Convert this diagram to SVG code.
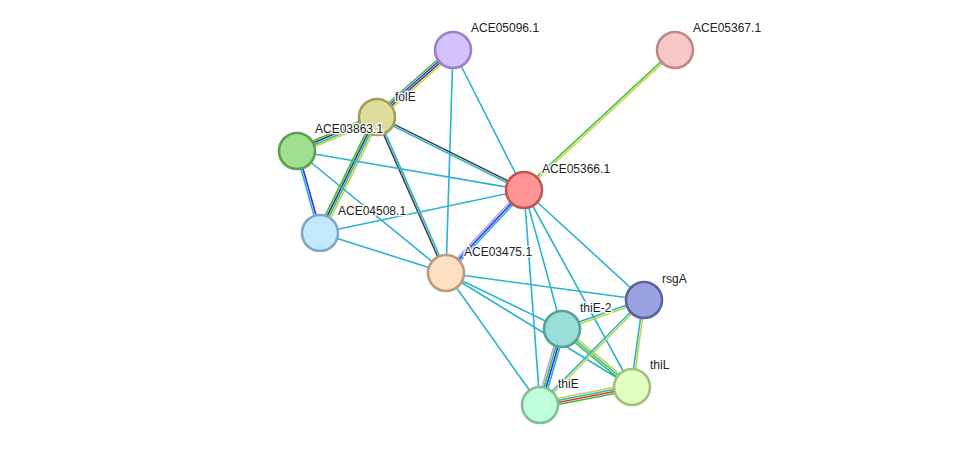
<svg xmlns="http://www.w3.org/2000/svg" width="976" height="451" viewBox="0 0 976 451">
<style>
  line { stroke-width: 1.6; fill: none; }
  .c { stroke: #2ab3d1; }
  .y { stroke: #c3d53a; }
  .g { stroke: #3cbf3c; }
  .k { stroke: #454545; }
  .b { stroke: #3535e8; }
  .p { stroke: #a8a8f8; }
  .r { stroke: #ee3535; }
  circle { stroke-width: 2.6; }
  text { font-family: "Liberation Sans", Arial, sans-serif; font-size: 12px; fill: #222; stroke: #fff; stroke-width: 2.5; paint-order: stroke; stroke-linejoin: round; }
</style>
<rect width="976" height="451" fill="#fff"/>
<g id="connectors">
  <!-- ACE05096.1 - folE -->
  <line class="g" x1="451.02" y1="47.75" x2="375.02" y2="114.75"/>
  <line class="b" x1="452.34" y1="49.25" x2="376.34" y2="116.25"/>
  <line class="k" x1="453.66" y1="50.75" x2="377.66" y2="117.75"/>
  <line class="y" x1="454.98" y1="52.25" x2="378.98" y2="119.25"/>
  <!-- ACE05096.1 singles -->
  <line class="c" x1="453" y1="50" x2="524" y2="190"/>
  <line class="c" x1="453" y1="50" x2="446" y2="273"/>
  <!-- ACE05367.1 - ACE05366.1 -->
  <line class="g" x1="674.32" y1="49.27" x2="523.32" y2="189.27"/>
  <line class="y" x1="675.68" y1="50.73" x2="524.68" y2="190.73"/>
  <!-- folE - ACE03863.1 -->
  <line class="g" x1="375.83" y1="114.24" x2="295.83" y2="148.24"/>
  <line class="k" x1="376.61" y1="116.08" x2="296.61" y2="150.08"/>
  <line class="c" x1="377.39" y1="117.92" x2="297.39" y2="151.92"/>
  <line class="y" x1="378.17" y1="119.76" x2="298.17" y2="153.76"/>
  <!-- folE - ACE04508.1 -->
  <line class="g" x1="374.31" y1="115.68" x2="317.31" y2="231.68"/>
  <line class="k" x1="376.10" y1="116.56" x2="319.10" y2="232.56"/>
  <line class="c" x1="377.90" y1="117.44" x2="320.90" y2="233.44"/>
  <line class="y" x1="379.69" y1="118.32" x2="322.69" y2="234.32"/>
  <!-- folE - ACE05366.1 -->
  <line class="k" x1="377.45" y1="116.10" x2="524.45" y2="189.10"/>
  <line class="c" x1="376.55" y1="117.90" x2="523.55" y2="190.90"/>
  <!-- folE - ACE03475.1 -->
  <line class="k" x1="376.09" y1="117.40" x2="445.09" y2="273.40"/>
  <line class="c" x1="377.91" y1="116.60" x2="446.91" y2="272.60"/>
  <!-- ACE03863.1 - ACE04508.1 -->
  <line class="c" x1="296.04" y1="151.27" x2="319.04" y2="233.27"/>
  <line class="b" x1="297.96" y1="150.73" x2="320.96" y2="232.73"/>
  <!-- ACE03863.1 singles -->
  <line class="c" x1="297" y1="151" x2="524" y2="190"/>
  <line class="c" x1="297" y1="151" x2="446" y2="273"/>
  <!-- ACE04508.1 singles -->
  <line class="c" x1="320" y1="233" x2="524" y2="190"/>
  <line class="c" x1="320" y1="233" x2="446" y2="273"/>
  <!-- ACE05366.1 - ACE03475.1 -->
  <line class="p" x1="522.54" y1="188.63" x2="444.54" y2="271.63"/>
  <line class="b" x1="524" y1="190" x2="446" y2="273"/>
  <line class="c" x1="525.46" y1="191.37" x2="447.46" y2="274.37"/>
  <!-- ACE05366.1 singles -->
  <line class="c" x1="524" y1="190" x2="644" y2="300"/>
  <line class="c" x1="524" y1="190" x2="562" y2="329"/>
  <line class="c" x1="524" y1="190" x2="632" y2="387"/>
  <line class="c" x1="524" y1="190" x2="540" y2="405"/>
  <!-- ACE03475.1 singles -->
  <line class="c" x1="446" y1="273" x2="644" y2="300"/>
  <line class="c" x1="446" y1="273" x2="562" y2="329"/>
  <line class="c" x1="446" y1="273" x2="632" y2="387"/>
  <line class="c" x1="446" y1="273" x2="540" y2="405"/>
  <!-- thiE-2 - thiE -->
  <line class="p" x1="559.12" y1="328.17" x2="537.12" y2="404.17"/>
  <line class="g" x1="561.04" y1="328.72" x2="539.04" y2="404.72"/>
  <line class="b" x1="562.96" y1="329.28" x2="540.96" y2="405.28"/>
  <line class="c" x1="564.88" y1="329.83" x2="542.88" y2="405.83"/>
  <!-- thiE - thiL -->
  <line class="y" x1="539.42" y1="402.05" x2="631.42" y2="384.05"/>
  <line class="c" x1="539.81" y1="404.02" x2="631.81" y2="386.02"/>
  <line class="r" x1="540.19" y1="405.98" x2="632.19" y2="387.98"/>
  <line class="g" x1="540.58" y1="407.95" x2="632.58" y2="389.95"/>
  <!-- thiE-2 - thiL -->
  <line class="y" x1="563.28" y1="327.46" x2="633.28" y2="385.46"/>
  <line class="c" x1="562" y1="329" x2="632" y2="387"/>
  <line class="g" x1="560.72" y1="330.54" x2="630.72" y2="388.54"/>
  <!-- rsgA - thiE-2 -->
  <line class="c" x1="643.67" y1="299.06" x2="561.67" y2="328.06"/>
  <line class="y" x1="644.33" y1="300.94" x2="562.33" y2="329.94"/>
  <!-- rsgA - thiL -->
  <line class="c" x1="643.01" y1="299.86" x2="631.01" y2="386.86"/>
  <line class="y" x1="644.99" y1="300.14" x2="632.99" y2="387.14"/>
  <!-- rsgA - thiE -->
  <line class="c" x1="643.29" y1="299.30" x2="539.29" y2="404.30"/>
  <line class="y" x1="644.71" y1="300.70" x2="540.71" y2="405.70"/>
</g>
<g id="ACE05096.1"><circle cx="453" cy="50" r="18" fill="#d4c2fd" stroke="#9a80cc"/><text x="471" y="32">ACE05096.1</text></g>
<g id="ACE05367.1"><circle cx="675" cy="50" r="18" fill="#f8c8c8" stroke="#c08888"/><text x="693" y="32">ACE05367.1</text></g>
<g id="folE"><circle cx="377" cy="117" r="18" fill="#dedd9d" stroke="#a0a05c"/><text x="395" y="101">folE</text></g>
<g id="ACE03863.1"><circle cx="297" cy="151" r="18" fill="#a0df90" stroke="#5e9e52"/><text x="315" y="133">ACE03863.1</text></g>
<g id="ACE05366.1"><circle cx="524" cy="190" r="18" fill="#ff9595" stroke="#c05656"/><text x="542" y="173">ACE05366.1</text></g>
<g id="ACE04508.1"><circle cx="320" cy="233" r="18" fill="#c4e8fe" stroke="#80a8c4"/><text x="338" y="215">ACE04508.1</text></g>
<g id="ACE03475.1"><circle cx="446" cy="273" r="18" fill="#fddfc2" stroke="#bc9c80"/><text x="464" y="256">ACE03475.1</text></g>
<g id="rsgA"><circle cx="644" cy="300" r="18" fill="#99a3df" stroke="#5a62a0"/><text x="662" y="283">rsgA</text></g>
<g id="thiE-2"><circle cx="562" cy="329" r="18" fill="#98dfd8" stroke="#5aa098"/><text x="580" y="312">thiE-2</text></g>
<g id="thiL"><circle cx="632" cy="387" r="18" fill="#e0ffc0" stroke="#a0c080"/><text x="650" y="369">thiL</text></g>
<g id="thiE"><circle cx="540" cy="405" r="18" fill="#c0ffd9" stroke="#80c098"/><text x="558" y="388">thiE</text></g>
</svg>
